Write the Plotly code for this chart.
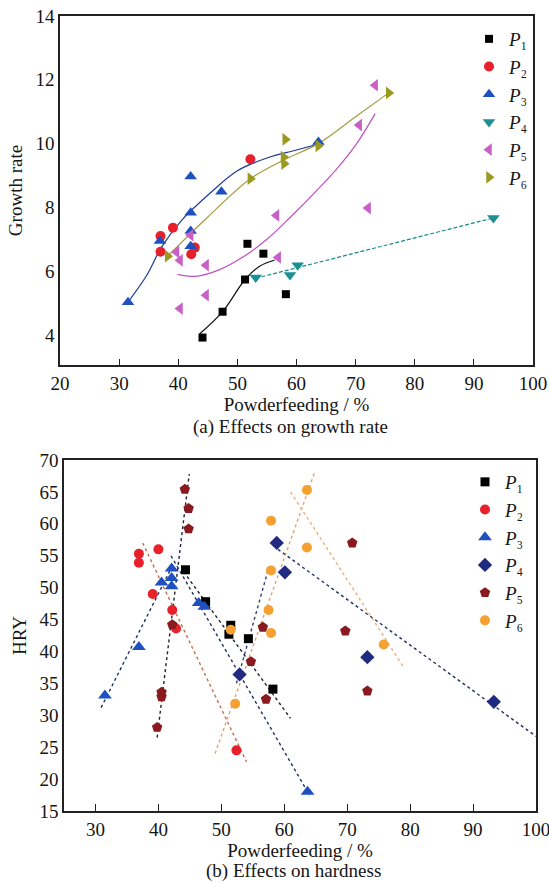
import plotly.graph_objects as go

# ---------------- (a) growth rate ----------------
a_p1_x = [44.1, 47.5, 51.3, 51.7, 54.4, 58.2]
a_p1_y = [3.92, 4.73, 5.74, 6.86, 6.55, 5.28]
a_p2_x = [37.0, 39.1, 37.0, 42.8, 42.2, 52.2]
a_p2_y = [7.10, 7.36, 6.61, 6.74, 6.53, 9.51]
a_p3_x = [31.5, 36.9, 42.1, 42.1, 42.1, 42.1, 47.3, 63.7]
a_p3_y = [5.03, 6.95, 6.78, 7.26, 7.83, 8.97, 8.49, 10.05]
a_p4_x = [53.1, 58.9, 60.2, 93.3]
a_p4_y = [5.80, 5.88, 6.19, 7.67]
a_p5_x = [39.7, 40.3, 42.1, 44.7, 44.7, 40.3, 56.6, 56.9, 72.1, 73.3, 70.6]
a_p5_y = [6.60, 6.34, 7.13, 6.19, 5.25, 4.83, 7.75, 6.43, 7.98, 11.83, 10.58]
a_p6_x = [38.2, 52.2, 57.8, 57.9, 58.1, 63.7, 75.6]
a_p6_y = [6.47, 8.90, 9.58, 9.37, 10.13, 9.93, 11.59]

# fitted curves (a)
fit_a1_x = [43.6, 47.5, 51.3, 53.7, 56.3]
fit_a1_y = [4.03, 4.73, 5.74, 6.15, 6.35]
fit_a3_x = [31.5, 34.7, 37.1, 40.6, 45.4, 50.0, 55.0, 60.0, 64.0]
fit_a3_y = [5.03, 5.88, 6.73, 7.60, 8.45, 9.15, 9.55, 9.80, 10.0]
fit_a4_x = [53.1, 93.3]
fit_a4_y = [5.78, 7.67]
fit_a5_x = [39.9, 43.0, 47.0, 51.0, 55.0, 59.0, 63.0, 67.0, 70.0, 73.3]
fit_a5_y = [5.90, 5.84, 6.05, 6.45, 7.00, 7.70, 8.45, 9.25, 9.95, 10.94]
fit_a6_x = [38.2, 45.0, 52.2, 58.0, 63.7, 70.0, 75.6]
fit_a6_y = [6.47, 7.70, 8.90, 9.50, 10.0, 10.84, 11.59]

# ---------------- (b) hardness ----------------
b_p1_x = [44.3, 47.5, 51.5, 51.2, 54.3, 58.2]
b_p1_y = [52.8, 47.8, 44.1, 42.7, 42.0, 34.1]
b_p2_x = [36.9, 36.9, 40.0, 39.1, 42.2, 42.8, 52.4]
b_p2_y = [55.3, 53.9, 56.0, 49.0, 46.5, 43.6, 24.5]
b_p3_x = [31.5, 36.9, 40.5, 42.1, 42.1, 42.1, 46.4, 47.3, 63.7]
b_p3_y = [33.1, 40.7, 50.8, 53.0, 51.5, 50.2, 47.6, 47.0, 18.0]
b_p4_x = [52.9, 58.8, 60.1, 73.2, 93.3]
b_p4_y = [36.4, 57.0, 52.4, 39.1, 32.1]
b_p5_x = [44.2, 44.8, 44.8, 70.8, 42.2, 40.5, 40.5, 39.8, 56.6, 54.7, 57.1, 69.7, 73.2]
b_p5_y = [65.4, 62.4, 59.2, 57.0, 44.2, 33.6, 32.9, 28.1, 43.8, 38.4, 32.5, 43.2, 33.8]
b_p6_x = [57.9, 63.6, 63.6, 57.9, 57.5, 57.9, 51.5, 52.2, 75.8]
b_p6_y = [60.5, 65.3, 56.3, 52.7, 46.5, 42.9, 43.4, 31.8, 41.1]

# fitted lines (b)
fit_b1_x, fit_b1_y = [44.0, 61.0], [52.5, 29.5]
fit_b2_x, fit_b2_y = [37.5, 54.0], [57.0, 22.7]
fit_b3u_x, fit_b3u_y = [30.9, 42.0], [31.2, 53.0]
fit_b3d_x, fit_b3d_y = [42.0, 64.0], [55.0, 17.5]
fit_b4u_x, fit_b4u_y = [52.4, 57.5], [35.0, 53.0]
fit_b4d_x, fit_b4d_y = [59.0, 100.0], [56.0, 26.7]
fit_b5_x, fit_b5_y = [39.8, 44.9], [26.5, 67.8]
fit_b6u_x, fit_b6u_y = [49.0, 64.8], [24.0, 68.0]
fit_b6d_x, fit_b6d_y = [61.0, 79.0], [65.0, 37.5]

names = ["<i>P</i>₁", "<i>P</i>₂", "<i>P</i>₃", "<i>P</i>₄", "<i>P</i>₅", "<i>P</i>₆"]

W, H = 549, 883
FONT = "Liberation Serif, Times New Roman, serif"
TXT = "#151515"

fig = go.Figure()

curve_a = [
    (fit_a1_x, fit_a1_y, "#111111", "solid"),
    (fit_a3_x, fit_a3_y, "#1c3a9a", "solid"),
    (fit_a4_x, fit_a4_y, "#1a8a8a", "4px,2px"),
    (fit_a5_x, fit_a5_y, "#c050c0", "solid"),
    (fit_a6_x, fit_a6_y, "#a0a040", "solid"),
]
for cx, cy, col, dash in curve_a:
    fig.add_trace(go.Scatter(x=cx, y=cy, mode="lines",
                             line=dict(color=col, width=1.2, dash=dash, shape="spline", smoothing=1.0),
                             showlegend=False, hoverinfo="skip", xaxis="x", yaxis="y"))

series_a = [
    (a_p1_x, a_p1_y, "#000000", "square", 8),
    (a_p2_x, a_p2_y, "#e8202a", "circle", 10),
    (a_p3_x, a_p3_y, "#1f50c0", "triangle-up", 11),
    (a_p4_x, a_p4_y, "#1a9090", "triangle-down", 11),
    (a_p5_x, a_p5_y, "#c860c8", "triangle-left", 11),
    (a_p6_x, a_p6_y, "#9a9a20", "triangle-right", 11),
]
for (sx, sy, col, sym, sz), nm in zip(series_a, names):
    fig.add_trace(go.Scatter(x=sx, y=sy, mode="markers", name=nm,
                             marker=dict(color=col, symbol=sym, size=sz),
                             xaxis="x", yaxis="y", legend="legend"))

curve_b = [
    (fit_b1_x, fit_b1_y, "#222233"),
    (fit_b2_x, fit_b2_y, "#c07050"),
    (fit_b3u_x, fit_b3u_y, "#223060"),
    (fit_b3d_x, fit_b3d_y, "#223060"),
    (fit_b4u_x, fit_b4u_y, "#334070"),
    (fit_b4d_x, fit_b4d_y, "#223060"),
    (fit_b5_x, fit_b5_y, "#222233"),
    (fit_b6u_x, fit_b6u_y, "#e8a060"),
    (fit_b6d_x, fit_b6d_y, "#e8b080"),
]
for cx, cy, col in curve_b:
    fig.add_trace(go.Scatter(x=cx, y=cy, mode="lines", line=dict(color=col, width=1.4, dash="dot"),
                             showlegend=False, hoverinfo="skip", xaxis="x2", yaxis="y2"))

series_b = [
    (b_p1_x, b_p1_y, "#000000", "square", 9),
    (b_p2_x, b_p2_y, "#e8202a", "circle", 10),
    (b_p3_x, b_p3_y, "#1f50c0", "triangle-up", 12),
    (b_p4_x, b_p4_y, "#1f2a80", "diamond", 11),
    (b_p5_x, b_p5_y, "#8a1a20", "pentagon", 11),
    (b_p6_x, b_p6_y, "#f5a030", "circle", 10),
]
for (sx, sy, col, sym, sz), nm in zip(series_b, names):
    fig.add_trace(go.Scatter(x=sx, y=sy, mode="markers", name=nm,
                             marker=dict(color=col, symbol=sym, size=sz),
                             xaxis="x2", yaxis="y2", legend="legend2"))

def px_x(p):
    return p / W

def px_y(p):
    return 1 - p / H

axis_common = dict(showline=True, linecolor="#222222", linewidth=1.5, mirror=True, showgrid=False,
                   zeroline=False, automargin=False, ticklabeloverflow="allow",
                   tickfont=dict(family=FONT, size=19, color=TXT),
                   title_font=dict(family=FONT, size=19, color=TXT))

fig.update_layout(
    width=W, height=H, margin=dict(l=0, r=0, t=0, b=0, autoexpand=False),
    paper_bgcolor="white", plot_bgcolor="white",
    font=dict(family=FONT, size=19, color=TXT),
    xaxis=dict(domain=[px_x(60), px_x(533)], range=[20, 100], dtick=10, ticks="inside", ticklen=6,
               tickcolor="#222222", title=dict(text="Powderfeeding / %", standoff=0), anchor="y", **axis_common),
    yaxis=dict(domain=[px_y(365), px_y(16)], range=[3.06, 14], dtick=2, ticks="",
               title=dict(text="Growth rate", standoff=8), anchor="x", **axis_common),
    xaxis2=dict(domain=[px_x(64), px_x(536)], range=[25, 100], dtick=10, ticks="inside", ticklen=7,
                tickcolor="#222222", title=dict(text="Powderfeeding / %", standoff=4), anchor="y2", **axis_common),
    yaxis2=dict(domain=[px_y(811), px_y(460)], range=[15, 70], dtick=5, ticks="",
                title=dict(text="HRY", standoff=8), anchor="x2", **axis_common),
    legend=dict(x=px_x(469), y=px_y(20), xanchor="left", yanchor="top", bgcolor="rgba(0,0,0,0)",
                font=dict(family=FONT, size=19, color=TXT), tracegroupgap=0, itemwidth=30),
    legend2=dict(x=px_x(465), y=px_y(463), xanchor="left", yanchor="top", bgcolor="rgba(0,0,0,0)",
                 font=dict(family=FONT, size=19, color=TXT), tracegroupgap=0, itemwidth=30),
    annotations=[
        dict(text="(a) Effects on growth rate", x=px_x(290), y=px_y(427), xref="paper", yref="paper",
             xanchor="center", yanchor="middle", showarrow=False, font=dict(family=FONT, size=19, color=TXT)),
        dict(text="(b) Effects on hardness", x=px_x(293), y=px_y(871), xref="paper", yref="paper",
             xanchor="center", yanchor="middle", showarrow=False, font=dict(family=FONT, size=19, color=TXT)),
    ],
)

fig.write_html("out.html")
